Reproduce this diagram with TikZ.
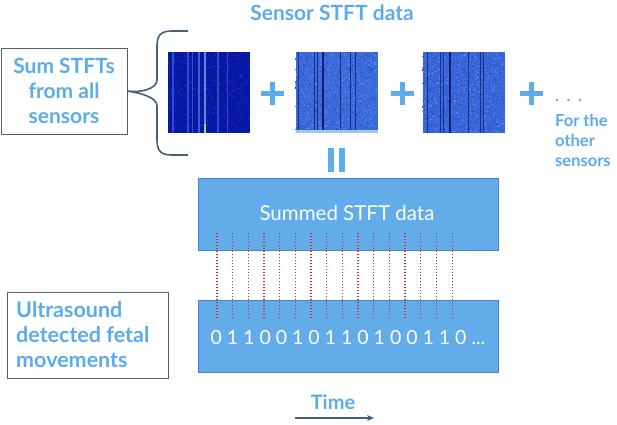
\documentclass[tikz,border=0pt]{standalone}
\usepackage{fontspec}
\setmainfont{Lato}
\usetikzlibrary{arrows.meta,calc}
\definecolor{tblue}{RGB}{92,172,236}
\definecolor{boxfill}{RGB}{98,172,234}
\definecolor{boxline}{RGB}{70,132,200}
\definecolor{slate}{RGB}{68,97,123}
\definecolor{grayline}{RGB}{85,95,105}
\definecolor{dotred}{RGB}{215,40,40}
\definecolor{sOne}{RGB}{8,22,165}
\definecolor{sOneLine}{RGB}{40,80,200}
\definecolor{sTwo}{RGB}{58,106,222}
\definecolor{sThree}{RGB}{55,102,220}
\definecolor{darkline}{RGB}{20,30,110}
\tikzset{
  lbl/.style={text=tblue,font=\bfseries\fontsize{21}{25}\selectfont,align=center,inner sep=0},
  sidebox/.style={draw=grayline,line width=1pt,minimum width=126pt,minimum height=86pt,inner sep=0},
  bigbox/.style={draw=boxline,fill=boxfill,line width=1pt,minimum width=300pt,minimum height=72pt,inner sep=0},
  spec/.style={minimum width=82pt,minimum height=81pt,inner sep=0},
  plusbar/.style={tblue,line width=5pt},
  reddots/.style={dotred,line width=1.1pt,dash pattern=on 1.4pt off 1.6pt},
  whitetxt/.style={text=white,font=\fontsize{20.5}{22}\selectfont,inner sep=0},
}
\begin{document}
\begin{tikzpicture}[x=1pt,y=-1pt]
\useasboundingbox[fill=white] (0,0) rectangle (617,424);

% title
\node[lbl] (title) at (332,13) {Sensor STFT data};

% left box
\node[sidebox] (sumbox) at (64,91) {};
\node[lbl] (sumtxt) at (sumbox.center) {Sum STFTs\\from all\\sensors};

% brace
\coordinate (btip) at (sumbox.east);
\draw[slate,line width=1.6pt] (188,31) -- (172,31) .. controls (161,31) and (157,35) .. (157,46) -- (157,80)
  .. controls (157,89) and (140,93) .. (btip) .. controls (140,93) and (157,97) .. (157,106) -- (157,140)
  .. controls (157,151) and (161,155) .. (172,155) -- (188,155);

% spectrograms
\node[spec,fill=sOne] (s1) at (209,92.5) {};
\node[spec,fill=sTwo] (s2) at (336.5,92.5) {};
\node[spec,fill=sThree] (s3) at (463.5,92.5) {};

\pgfmathsetseed{7}
\foreach \i in {1,...,900}{
  \pgfmathsetmacro{\rx}{168+rnd*81}
  \pgfmathsetmacro{\ry}{52+rnd*80}
  \pgfmathsetmacro{\rc}{rnd*12}
  \fill[white!\rc!sOne] (\rx,\ry) rectangle ++(1.1,1.1);
  \pgfmathsetmacro{\rx}{295+rnd*81}
  \pgfmathsetmacro{\ry}{52+rnd*80}
  \pgfmathsetmacro{\rc}{rnd*24}
  \fill[white!\rc!sTwo] (\rx,\ry) rectangle ++(1.1,1.1);
  \pgfmathsetmacro{\rx}{295+rnd*81}
  \pgfmathsetmacro{\ry}{52+rnd*80}
  \pgfmathsetmacro{\rc}{rnd*25}
  \fill[black!\rc!sTwo] (\rx,\ry) rectangle ++(1.1,1.1);
  \pgfmathsetmacro{\rx}{422+rnd*81}
  \pgfmathsetmacro{\ry}{52+rnd*80}
  \pgfmathsetmacro{\rc}{rnd*26}
  \fill[white!\rc!sThree] (\rx,\ry) rectangle ++(1.1,1.1);
  \pgfmathsetmacro{\rx}{422+rnd*81}
  \pgfmathsetmacro{\ry}{52+rnd*80}
  \pgfmathsetmacro{\rc}{rnd*25}
  \fill[black!\rc!sThree] (\rx,\ry) rectangle ++(1.1,1.1);
}
% spectrogram 1 lines
\foreach \xx/\cc/\ww in {173/0/1.2,188/0/1.2,192/0/1,199/10/1.3,218/0/1.2,227/0/1}{
  \draw[white!\cc!sOneLine,line width=\ww pt] (\xx,52) -- (\xx,133);}
\draw[white!30!sOneLine,line width=1.3pt] (205,52) -- (205,133);
\draw[yellow!60!cyan,line width=1.2pt] (205,124) -- (205,133);
% spectrogram 2 lines
\foreach \xx/\ww in {298/0.9,314/1,317/0.9,340/0.8,350/0.9,355/0.8}{
  \draw[darkline!80!sTwo,line width=\ww pt] (\xx,52) -- (\xx,133);}
\draw[darkline,line width=2pt] (323,52) -- (323,133);
\fill[cyan!30!white!80!sTwo] (295.5,130) rectangle (377.5,133);
% spectrogram 3 lines
\foreach \xx/\ww in {427/0.9,440/0.9,443/0.9,468/0.8,480/0.9,483/0.8}{
  \draw[darkline!75!sThree,line width=\ww pt] (\xx,52) -- (\xx,133);}
\draw[darkline,line width=2pt] (450,52) -- (450,133);

% plus signs
\foreach \px/\nm in {272/p1,402/p2,531/p3}{
  \coordinate (\nm) at (\px,93);
  \draw[plusbar] ($(\nm)+(-11.5,0)$) -- ($(\nm)+(11.5,0)$);
  \draw[plusbar] ($(\nm)+(0,-11.5)$) -- ($(\nm)+(0,11.5)$);
}

% dots and other sensors text
\foreach \dx in {557,568.5,580}{\fill[tblue] (\dx,100) circle (1.3);}
\node[text=tblue,font=\bfseries\fontsize{16.5}{20}\selectfont,align=left,anchor=west,inner sep=0] (other) at (555,140) {For the\\other\\sensors};

% equals (vertical)
\fill[tblue] (328,148) rectangle (333.5,172);
\fill[tblue] (339,148) rectangle (344.5,172);

% summed box
\node[bigbox] (summed) at (348,214) {};
\node[whitetxt] (sumtext) at (347,213) {Summed STFT data};

% bottom box
\node[bigbox] (bits) at (348,336) {};

% red dotted lines
\foreach \k in {0,...,15}{
  \pgfmathsetmacro{\lx}{217+\k*15.67}
  \draw[reddots] (\lx,233) -- (\lx,320);
}
\node[whitetxt,font=\fontsize{19.5}{22}\selectfont] (bitstext) at (348,337) {0 1 1 0 0 1 0 1 1 0 1 0 0 1 1 0 ...};

% ultrasound box
\node[sidebox,minimum width=161pt,minimum height=86pt] (usbox) at (87.5,335) {};
\node[lbl,align=left,anchor=west,font=\bfseries\fontsize{21.5}{25}\selectfont] (ustxt) at (16,335) {Ultrasound\\detected fetal\\movements};

% time
\node[text=tblue,font=\bfseries\fontsize{20}{20}\selectfont,inner sep=0] (time) at (333,402) {Time};
\coordinate (ta) at (295,418);
\coordinate (tb) at (374,418);
\draw[slate,line width=1.6pt,-{Stealth[length=7pt,width=6pt]}] (ta) -- (tb);
\end{tikzpicture}
\end{document}
